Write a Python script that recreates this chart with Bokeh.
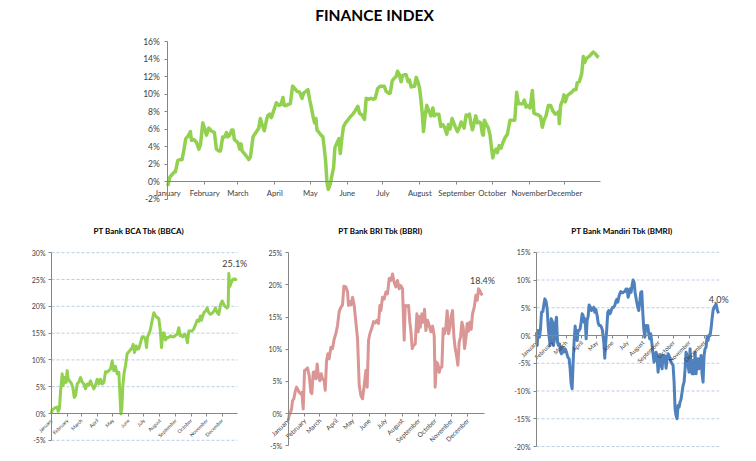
import math
from bokeh.plotting import figure
from bokeh.layouts import column, row
from bokeh.models import Range1d, FixedTicker, Label, PrintfTickFormatter
from bokeh.embed import file_html
from bokeh.resources import INLINE

MONTHS = ["January", "February", "March", "April", "May", "June", "July",
          "August", "September", "October", "November", "December"]
MONTH_START = [0, 31, 59, 90, 120, 151, 181, 212, 243, 273, 304, 334]

# ---------------- Finance index (top) ----------------
index_day = [0, 1.7, 3.6, 5.6, 6.4, 8.4, 10.1, 12.0, 13.4, 15.1, 17.1, 19.0, 19.9, 21.8, 24.1, 26.1, 27.5, 29.4, 31.1, 32.5,
             34.5, 36.4, 39.2, 40.9, 42.9, 44.3, 46.2, 47.9, 49.3, 50.4, 52.1, 53.8, 54.9, 56.0, 57.7, 59.1, 60.5, 61.6, 62.5, 64.4,
             66.1, 68.1, 69.5, 71.7, 73.1, 75.1, 76.5, 77.9, 79.3, 81.2, 82.9, 84.0, 85.7, 87.1, 89.1, 91.3, 93.3, 95.2, 96.9, 98.0,
             99.7, 101.1, 103.1, 105.0, 106.4, 108.7, 110.9, 112.9, 114.3, 116.2, 117.9, 119.3, 120.7, 122.1, 123.5, 124.6, 125.5, 127.2, 128.9, 130.5,
             131.7, 132.8, 133.9, 135.0, 136.7, 138.1, 139.5, 140.6, 142.3, 144.0, 145.1, 146.5, 147.9, 149.6, 151.3, 153.5, 155.7, 157.7, 159.9, 161.3,
             163.3, 165.5, 166.9, 168.9, 170.9, 173.1, 174.5, 176.5, 178.7,
             180.1, 182.1, 183.7, 185.7, 187.1, 188.8, 190.5, 192.1, 193.3, 194.9, 196.3, 197.5, 199.1, 200.5, 202.2, 203.3, 204.8, 206.2, 207.6, 209.0,
             210.4, 211.8, 212.9, 214.0, 215.1, 216.5, 217.9, 219.3, 221.3, 223.0, 224.1, 225.8, 228.0, 229.7, 231.4, 232.8, 234.7, 236.1, 237.5, 239.2,
             240.3, 242.0, 243.7, 245.4, 246.8, 248.2, 249.3, 251.0, 252.4, 253.8, 254.9, 256.3, 257.7, 259.1, 260.5, 262.2, 263.3, 264.7, 265.5, 266.4,
             267.8, 269.7, 271.1, 272.5, 273.4, 274.8, 276.2, 277.3, 278.7, 280.4, 281.8, 283.7, 285.7, 287.9, 290.2, 291.9, 293.5, 295.0, 296.9, 298.6,
             300.0, 301.4, 302.8, 304.8, 306.7, 308.1, 309.8, 311.7, 313.7, 315.1, 316.5, 318.2, 320.2, 322.1, 323.8, 326.0, 327.7, 328.8, 329.4, 330.5,
             332.2, 333.3, 334.4, 336.1, 337.8, 339.8, 341.7, 343.4, 344.5, 346.2, 348.2, 349.6, 350.7, 352.4, 354.6, 356.6, 358.0, 359.7, 361.3, 362.7]
index_pct = [-0.5, 0.5, 0.8, 1.1, 1.1, 2.4, 2.5, 2.5, 3.5, 4.9, 5.2, 5.7, 4.7, 4.8, 4.5, 3.7, 4.2, 6.7, 6.0, 5.3,
             6.1, 5.8, 5.6, 3.7, 3.5, 3.5, 5.1, 5.1, 5.6, 5.1, 5.3, 5.9, 5.9, 4.8, 4.6, 4.4, 3.7, 4.3, 3.5, 3.2,
             2.9, 2.5, 2.8, 5.1, 5.4, 5.8, 6.1, 7.2, 6.5, 5.8, 6.9, 7.5, 7.7, 7.3, 8.1, 9.0, 8.7, 8.8, 9.6, 8.7,
             8.7, 8.8, 8.9, 10.9, 10.7, 10.3, 10.2, 9.5, 10.1, 10.3, 10.5, 9.4, 8.5, 7.5, 6.7, 7.2, 5.9, 5.6, 5.3, 5.1,
             3.7, 2.3, -0.1, -0.9, -0.3, 0.7, 1.6, 3.9, 4.4, 4.9, 3.2, 5.0, 6.3, 6.7, 7.0, 7.4, 7.7, 8.1, 8.6, 7.8,
             7.6, 7.1, 9.5, 9.4, 9.5, 9.4, 9.5, 10.6, 10.9,
             10.9, 10.9, 10.3, 10.1, 10.1, 11.5, 11.8, 12.0, 12.6, 12.2, 11.4, 12.1, 12.2, 12.2, 11.4, 11.6, 10.8, 10.9, 10.9, 11.9,
             11.4, 10.7, 9.4, 7.9, 5.7, 7.5, 8.7, 8.2, 7.5, 8.4, 7.5, 7.7, 7.7, 6.3, 6.5, 6.2, 5.4, 6.5, 6.0, 7.2,
             6.8, 6.2, 5.7, 6.2, 6.8, 6.5, 6.1, 7.6, 7.5, 7.7, 6.7, 5.9, 6.7, 7.5, 6.7, 6.8, 6.7, 5.4, 5.3, 7.0,
             6.6, 6.1, 5.3, 3.7, 2.7, 3.5, 3.7, 3.3, 4.1, 3.8, 4.4, 5.0, 5.4, 7.0, 7.0, 7.0, 10.2, 8.9, 8.9, 8.9,
             9.3, 8.5, 8.7, 8.4, 10.4, 7.8, 7.7, 7.6, 7.4, 6.2, 7.0, 7.5, 8.7, 8.7, 8.1, 7.7, 7.8, 8.0, 6.6, 8.7,
             9.3, 9.9, 9.1, 9.8, 10.0, 10.2, 10.5, 10.5, 11.3, 11.4, 12.3, 14.3, 13.6, 14.1, 14.3, 14.6, 14.8, 14.6, 14.3, 14.2]

# ---------------- PT Bank BCA Tbk (BBCA) ----------------
bbca_day = [0, 1.3, 4.6, 7.8, 11.1, 13.0, 15.7, 17.6, 20.9, 22.8, 25.4,
            28.7, 30.7, 32.6, 35.2, 38.5, 41.7, 44.4, 47.0, 50.2, 53.5,
            56.8, 60.0, 63.3, 66.5, 69.8, 73.1, 76.3, 79.6, 82.8, 86.1,
            89.4, 92.6, 95.9, 99.2, 102.4, 105.7, 108.9, 112.2, 115.5, 118.7,
            122.0, 125.2, 128.5, 131.8, 133.7, 135.7, 137.6, 139.6, 142.2, 144.8,
            148.1, 151.3, 154.6, 157.9, 159.8, 162.4, 165.7, 168.3, 170.9, 174.2,
            177.4, 180.7, 184.0, 185.9, 187.9, 190.5, 193.7, 197.0, 200.3, 203.5,
            206.8, 210.0, 212.7, 215.3, 217.9, 220.5, 223.1, 226.4, 229.6, 232.9,
            236.1, 239.4, 242.7, 245.9, 249.2, 251.8, 254.4, 257.0, 260.9, 263.5,
            266.1, 268.8, 272.0, 275.3, 278.5, 281.8, 285.1, 288.3, 291.6, 293.5,
            296.2, 298.8, 301.4, 304.6, 307.9, 311.2, 314.4, 317.7, 320.9, 324.2,
            327.5, 330.7, 334.0, 337.3, 340.5, 343.8, 345.7, 347.0, 349.0, 351.6,
            354.9, 357.5, 360.1, 362.7]
bbca_pct = [0.0, 0.7, 0.9, 1.1, 1.2, 0.4, 1.0, 4.0, 7.4, 5.2, 6.7,
            5.8, 8.0, 6.4, 6.1, 5.7, 4.9, 3.0, 3.3, 5.5, 5.9,
            6.7, 5.9, 5.5, 4.6, 5.5, 5.3, 6.1, 5.3, 4.6, 5.3,
            6.4, 5.5, 6.4, 5.5, 5.8, 7.8, 7.7, 8.0, 8.3, 9.8,
            8.0, 8.8, 7.4, 7.7, 4.0, -0.1, 0.9, 5.2, 7.7, 8.9,
            11.2, 11.5, 11.9, 12.3, 12.9, 11.4, 12.6, 12.0, 12.1, 13.2,
            14.3, 14.3, 13.8, 12.3, 14.3, 14.8, 15.7, 17.4, 18.8, 18.2,
            17.9, 17.7, 15.7, 12.3, 15.0, 15.0, 13.7, 14.2, 14.2, 14.5,
            14.3, 14.3, 14.6, 14.8, 16.0, 14.5, 14.6, 14.3, 14.8, 14.3,
            13.2, 15.4, 15.4, 15.4, 15.8, 16.6, 17.4, 17.2, 18.2, 17.4,
            18.3, 18.9, 19.1, 19.7, 18.8, 18.5, 18.7, 19.1, 19.7, 18.8,
            18.5, 20.3, 21.0, 20.3, 19.9, 19.7, 20.0, 26.1, 23.7, 24.4,
            25.0, 25.1, 25.0, 25.1]

# ---------------- PT Bank BRI Tbk (BBRI) ----------------
bbri_day = [0, 1.9, 4.3, 6.2, 8.1, 10.5, 13.0, 15.5, 18.0, 20.4,
            22.9, 25.4, 27.9, 30.4, 32.8, 35.9, 39.0, 42.1, 44.0, 46.5,
            48.9, 51.4, 53.9, 56.4, 58.9, 61.3, 63.8, 66.9, 68.8, 71.3,
            73.7, 76.2, 79.3, 82.4, 85.5, 88.6, 91.7, 94.8, 97.9, 101.0,
            103.5, 107.2, 110.3, 112.1, 114.6, 117.1, 119.6, 122.7, 125.8, 128.9,
            132.0, 135.1, 138.2, 141.3, 144.4, 146.8, 149.3, 151.8, 155.5, 158.6,
            161.7, 164.8, 167.9, 170.4, 172.2, 175.3, 178.4, 181.5, 184.6, 187.7,
            190.8, 193.9, 197.0, 200.1, 203.2, 206.3, 209.4, 212.5, 215.6, 217.5,
            220.6, 223.7, 226.1, 228.0, 230.5, 233.0, 236.1, 239.2, 241.6, 243.5,
            245.4, 248.5, 250.9, 253.4, 255.9, 259.0, 262.1, 265.2, 268.3, 271.4,
            273.2, 275.7, 278.2, 280.7, 283.1, 285.6, 288.1, 290.6, 293.1, 295.5,
            298.0, 300.5, 303.0, 305.5, 307.9, 310.4, 312.9, 315.4, 317.8, 320.3,
            322.8, 325.3, 327.8, 330.2, 332.7, 335.2, 337.7, 340.1, 342.6, 345.7,
            348.8, 351.3, 353.8, 356.3, 358.7, 361.2]
bbri_pct = [-1.1, -0.3, 0.2, 0.7, 2.0, 2.3, 3.4, 4.1, 3.7, 3.3,
            3.1, 3.3, 0.7, 6.7, 6.8, 7.1, 5.9, 3.3, 3.1, 6.4,
            6.5, 5.4, 7.7, 5.7, 5.1, 6.2, 5.4, 5.1, 3.6, 8.2,
            9.3, 8.5, 10.3, 10.1, 11.6, 12.4, 13.7, 15.9, 16.5, 16.9,
            19.8, 19.7, 18.9, 16.8, 17.4, 16.9, 18.1, 16.8, 14.2, 11.6,
            4.4, 2.8, 2.3, 4.4, 6.7, 4.1, 11.4, 12.4, 13.3, 14.3,
            14.1, 14.5, 14.0, 16.8, 16.0, 18.1, 17.8, 18.9, 18.6, 21.0,
            20.7, 21.7, 20.4, 19.7, 20.7, 19.4, 19.9, 19.4, 11.4, 16.8,
            16.7, 16.8, 14.2, 12.9, 10.1, 10.6, 10.8, 15.5, 12.7, 15.1,
            13.4, 15.5, 14.2, 16.2, 12.9, 14.5, 13.7, 12.7, 13.6, 12.1,
            4.1, 8.0, 7.7, 6.4, 7.2, 7.2, 13.2, 12.4, 13.4, 16.0,
            12.4, 13.3, 15.2, 16.0, 12.1, 10.1, 9.0, 7.5, 11.1, 11.9,
            14.2, 13.4, 10.1, 11.6, 14.0, 12.8, 14.2, 13.1, 15.5, 16.5,
            18.4, 17.6, 19.4, 19.1, 18.6, 18.4]

# ---------------- PT Bank Mandiri Tbk (BMRI) ----------------
bmri_day = [0, 1.3, 3.3, 6.0, 8.0, 10.0, 12.6, 14.6, 16.6, 19.2, 21.2, 23.2, 25.2, 27.2, 29.2, 31.9, 33.8, 35.8, 37.8, 39.8,
            41.8, 43.8, 45.8, 47.8, 49.8, 51.8, 54.4, 57.1, 59.7, 62.4, 65.0, 67.0, 69.0, 71.0, 73.0, 75.0, 77.0, 79.0, 81.0, 82.9,
            84.9, 86.9, 88.9, 90.9, 92.9, 94.9, 96.9, 98.9, 100.9, 102.9, 104.8, 107.5, 109.5, 111.5, 114.1, 116.1, 118.1, 120.8, 122.8, 124.8,
            127.4, 129.4, 131.4, 134.0, 136.0, 138.0, 140.0, 142.0, 144.0, 145.9, 148.0, 150.0, 152.0, 153.9, 155.9, 157.9, 159.9, 161.9, 163.9, 165.9,
            167.9, 169.9, 171.9, 173.9, 175.8, 178.5, 180.5, 182.5, 184.5, 186.5, 188.5, 190.4, 192.4, 194.4, 196.4, 199.1, 201.7, 203.7, 205.7, 207.7,
            209.7, 211.7, 213.7, 215.7, 217.7, 219.6, 221.6, 223.6, 225.6, 227.6, 229.6, 232.2, 234.2, 236.2, 238.2, 240.2, 242.2, 244.2, 246.2, 248.2,
            250.2, 252.2, 254.1, 256.1, 258.1, 260.1, 262.1, 264.1, 266.1, 268.1, 270.1, 272.1, 274.1, 276.0, 278.0, 280.0, 282.0, 284.0, 286.0, 288.0,
            290.0, 292.0, 294.0, 296.0, 297.9, 299.9, 301.9, 303.9, 305.9, 307.9, 309.9, 311.9, 313.9, 315.9, 317.8, 319.8, 321.8, 323.8, 325.8, 327.8,
            329.8, 331.8, 333.8, 335.8, 337.8, 339.7, 341.7, 343.7, 345.7, 347.7, 349.7, 351.7, 353.7, 355.7, 357.7, 359.6, 361.6, 363.0]
bmri_pct = [0.6, -1.8, 0.9, -0.3, 1.2, 4.2, 4.3, 5.5, 6.6, 6.1, 4.8, 1.8, -0.3, -1.8, 3.0, 2.4, -1.8, -0.6, 2.1, 3.3,
            -1.2, -1.8, -1.5, -2.9, -3.3, -2.1, -3.0, -2.4, -3.0, -3.9, -4.2, -6.0, -8.7, -9.6, -4.8, -0.9, 1.7, -0.1, -0.9, 0.9,
            0.9, 1.2, 2.4, 3.9, 3.6, 2.4, 3.0, -0.6, 2.7, 3.5, 5.5, 5.1, 4.5, 4.7, 5.1, 4.2, 4.7, 3.6, 2.3, 1.8,
            1.8, 1.5, 0.9, -1.2, -4.1, -1.2, 1.2, 4.2, 4.5, 3.9, 4.2, 4.8, 5.1, 5.1, 5.4, 6.1, 6.5, 6.0, 6.9, 7.5,
            7.9, 7.7, 7.7, 7.9, 7.9, 8.4, 8.4, 6.9, 7.5, 8.4, 7.8, 9.0, 10.0, 9.6, 7.8, 6.3, 5.1, 4.5, 6.0, 7.8,
            7.9, 4.2, 1.2, -0.3, 1.8, 1.7, 1.8, 0.3, -0.6, 0.3, -1.2, -3.3, -4.8, -4.2, -3.0, -3.9, -6.6, -4.8, -3.6, -5.1,
            -6.0, -3.6, -4.8, -3.7, -5.9, -4.2, -3.3, -3.6, -4.3, -4.8, -5.1, -5.4, -8.4, -13.2, -14.4, -15.0, -12.6, -12.9, -12.0, -11.5,
            -10.2, -9.0, -8.4, -6.0, -3.0, -3.6, -5.4, -6.6, -2.4, -5.4, -6.9, -4.5, -6.9, -3.0, -6.9, -5.1, -4.2, -6.0, -5.1, -3.6,
            -6.9, -8.4, -3.6, -2.4, -2.1, -0.3, -0.9, 0.1, 0.0, 1.2, 3.0, 4.5, 5.1, 5.3, 5.7, 4.8, 4.2, 4.0]

FONT = "Lato"
AXIS_COLOR = "#868686"
LABEL_COLOR = "#404040"
GRID_COLOR = "#B9CDE5"
OFF = 0  # observed page offset of the layout


def make_chart(fig_x, fig_y, fig_w, fig_h, px0, px_per_day, py0, py_per_pct,
               ymin, ymax, ystep, ylab_size, ylab_standoff, xlab_size, rotate, grid,
               title, title_px, title_py, title_size):
    """Chart whose frame covers the whole figure; axes sit at x=0 / y=0 inside it."""
    xr = Range1d((fig_x - px0) / px_per_day, (fig_x + fig_w - px0) / px_per_day)
    yr = Range1d((py0 - (fig_y + fig_h)) / py_per_pct, (py0 - fig_y) / py_per_pct)
    p = figure(width=fig_w, height=fig_h, x_range=xr, y_range=yr, min_border=0,
               title=None, output_backend="svg", toolbar_location=None)
    p.outline_line_color = None
    p.background_fill_color = "white"
    p.xgrid.visible = False
    p.ygrid.visible = False
    yticks = list(range(ymin, ymax + 1, ystep))
    for ax in (p.xaxis[0], p.yaxis[0]):
        ax.axis_line_color = AXIS_COLOR
        ax.major_tick_line_color = AXIS_COLOR
        ax.minor_tick_line_color = None
        ax.major_tick_in = 0
        ax.major_tick_out = 3
        ax.major_label_text_color = LABEL_COLOR
        ax.major_label_text_font = FONT
        ax.fixed_location = 0
    y = p.yaxis[0]
    y.bounds = (ymin, ymax)
    y.ticker = FixedTicker(ticks=yticks)
    y.formatter = PrintfTickFormatter(format="%d%%")
    y.major_label_text_font_size = ylab_size
    y.major_label_standoff = ylab_standoff
    x = p.xaxis[0]
    x.bounds = (0, 364)
    x.ticker = FixedTicker(ticks=MONTH_START)
    x.major_label_overrides = {d: m for d, m in zip(MONTH_START, MONTHS)}
    x.major_label_text_font_size = xlab_size
    x.major_label_standoff = 3
    if rotate:
        x.major_label_orientation = math.pi / 4
    if grid:
        gticks = [t for t in yticks if t != 0]
        p.segment(x0=[0] * len(gticks), x1=[364] * len(gticks), y0=gticks, y1=gticks,
                  line_color=GRID_COLOR, line_width=1, line_dash="3 2")
    p.add_layout(Label(x=(title_px - px0) / px_per_day, y=(py0 - title_py) / py_per_pct,
                       text=title, text_align="center", text_baseline="middle",
                       text_font=FONT, text_font_size=title_size, text_font_style="bold",
                       text_color="#000000"))
    return p


def add_end_label(p, days, pct, dx, dy):
    p.add_layout(Label(x=days[-1], y=pct[-1], text=f"{pct[-1]:.1f}%", text_align="center",
                       text_baseline="middle", x_offset=dx, y_offset=dy,
                       text_font=FONT, text_font_size="9px", text_color=LABEL_COLOR))


# Top: Finance index
top = make_chart(OFF, OFF, 748, 220, 167.3, 1.1886, 181.0, 8.75,
                 -2, 16, 2, "8.5px", 5, "7.7px", False, False,
                 "FINANCE INDEX", 374, 14, "15.5px")
top.line(index_day, index_pct, line_width=3.5, color="#92D050", line_join="round")

# Bottom: BBCA
bbca = make_chart(OFF, OFF + 220, 258, 233, 51.0, 0.511, 413.0, 5.36,
                  -5, 30, 5, "7px", 3, "5px", True, True,
                  "PT Bank BCA Tbk (BBCA)", 138.5, 230, "8px")
bbca.line(bbca_day, bbca_pct, line_width=3, color="#92D050", line_join="round")
add_end_label(bbca, bbca_day, bbca_pct, -2, 15)

# Bottom: BBRI
bbri = make_chart(OFF + 258, OFF + 220, 247, 233, 287.7, 0.538, 413.0, 6.428,
                  -5, 25, 5, "7px", 3, "6.5px", True, False,
                  "PT Bank BRI Tbk (BBRI)", 380, 230, "8px")
bbri.line(bbri_day, bbri_pct, line_width=3, color="#D99694", line_join="round")
add_end_label(bbri, bbri_day, bbri_pct, 0, 15)

# Bottom: BMRI
bmri = make_chart(OFF + 505, OFF + 220, 243, 233, 536.0, 0.502, 335.0, 5.55,
                  -20, 15, 5, "7px", 3, "6px", True, True,
                  "PT Bank Mandiri Tbk (BMRI)", 621.5, 230, "8px")
bmri.line(bmri_day, bmri_pct, line_width=3, color="#4F81BD", line_join="round")
add_end_label(bmri, bmri_day, bmri_pct, 0, 14)

layout = column(top, row(bbca, bbri, bmri))
open("out.html", "w").write(file_html(layout, INLINE))
